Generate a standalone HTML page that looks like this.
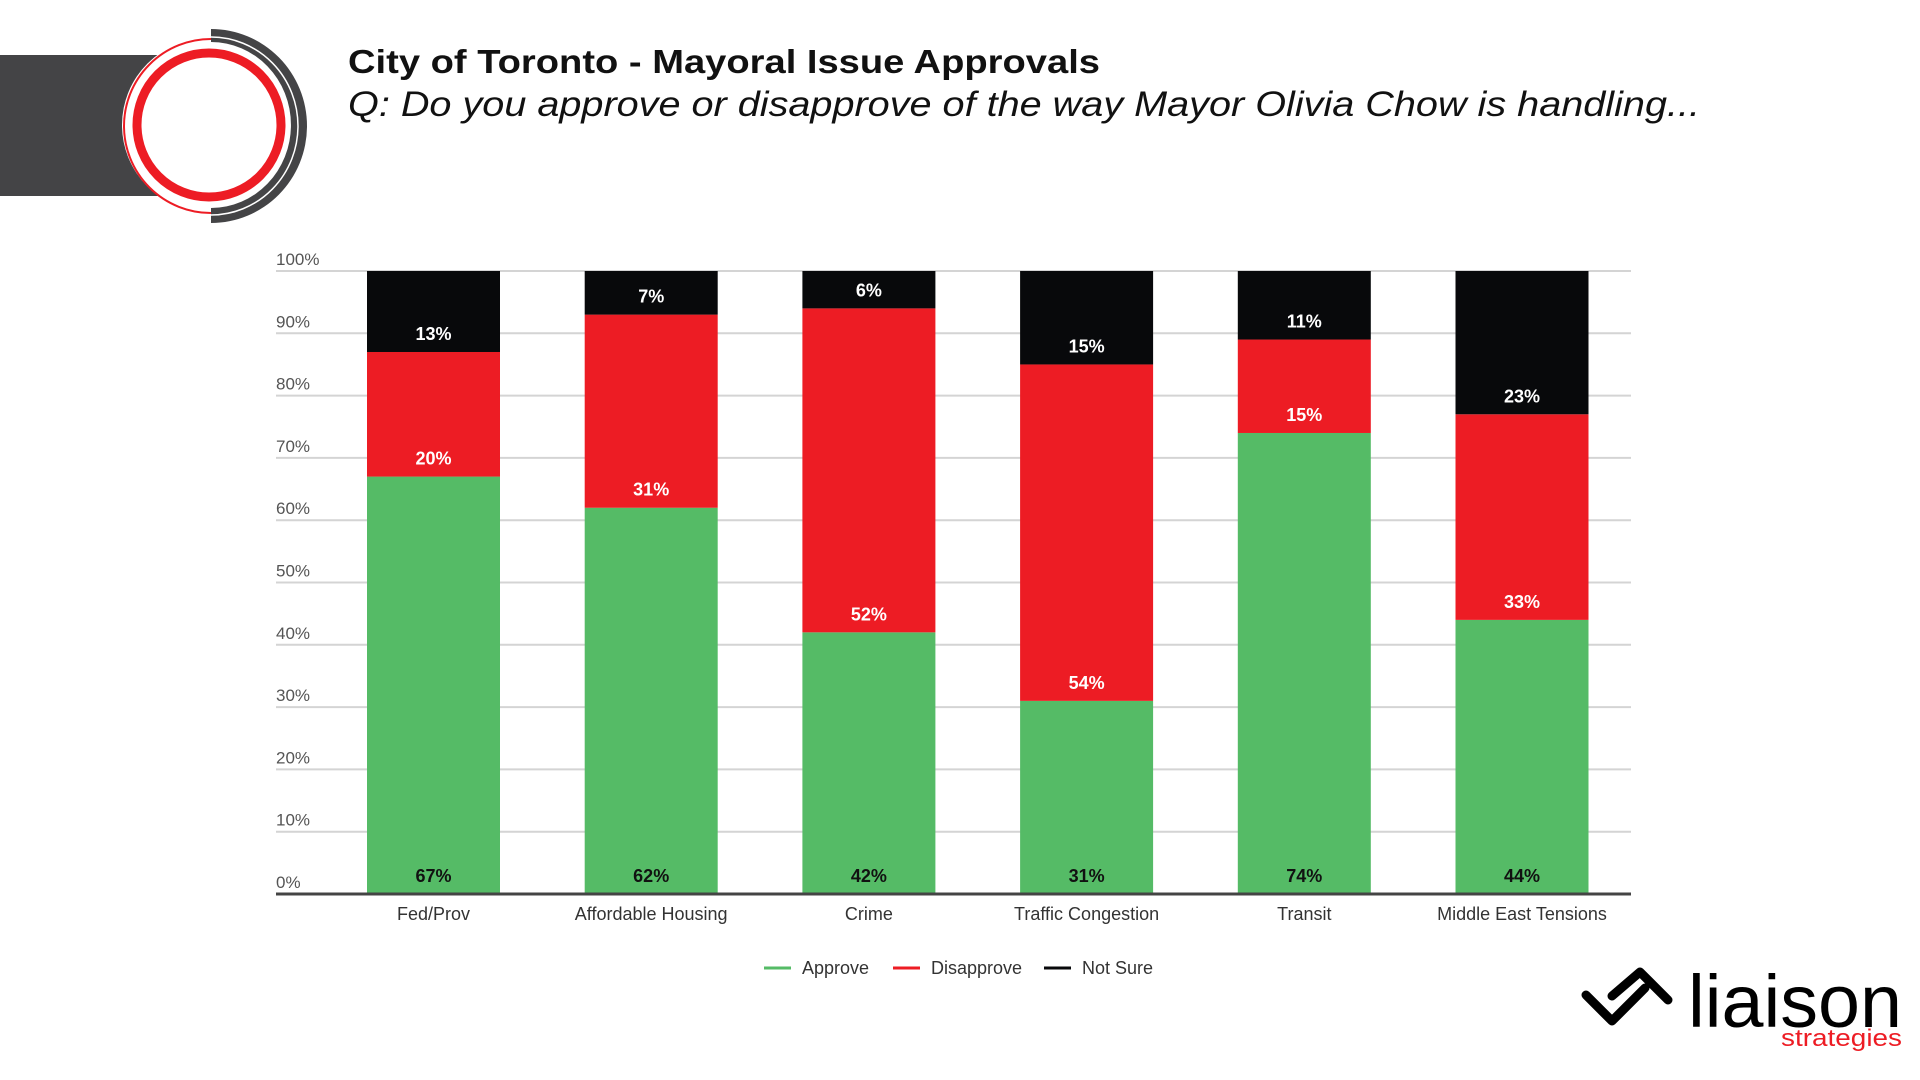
<!DOCTYPE html>
<html><head><meta charset="utf-8"><style>
html,body{margin:0;padding:0;background:#fff;}
svg{display:block;font-family:"Liberation Sans",sans-serif;}
</style></head><body>
<svg id="chart" width="1920" height="1080" viewBox="0 0 1920 1080" xmlns="http://www.w3.org/2000/svg">
  <g>
    <rect x="0" y="55" width="170" height="141" fill="#444446"/>
    <circle cx="209" cy="125" r="87" fill="#fff"/>
    <path d="M 211 39 A 87 87 0 0 0 211 213" fill="none" stroke="#ED1C24" stroke-width="2"/>
    <path d="M 211 29 A 96 97 0 0 1 211 223 L 211 208 A 80 83 0 0 0 211 42 Z" fill="#444446"/>
    <path d="M 211 37 A 86 88 0 0 1 211 215" fill="none" stroke="#fff" stroke-width="1.5"/>
    <circle cx="209" cy="125" r="72" fill="#fff" stroke="#ED1C24" stroke-width="9"/>
  </g>
  <text x="348" y="73" font-size="33" font-weight="bold" fill="#111" textLength="752" lengthAdjust="spacingAndGlyphs">City of Toronto - Mayoral Issue Approvals</text>
  <text x="348" y="116" font-size="35" font-style="italic" fill="#111" textLength="1352" lengthAdjust="spacingAndGlyphs">Q: Do you approve or disapprove of the way Mayor Olivia Chow is handling...</text>
  <g id="grid"></g>
  <g id="bars"></g>
  <g id="labels"></g>
  <g id="legend"></g>
  <g>
    <path d="M 1586 995 L 1612 1021 L 1645 988" fill="none" stroke="#000" stroke-width="9" stroke-linecap="round" stroke-linejoin="round"/>
    <path d="M 1612 996 L 1640 972 L 1668 1000" fill="none" stroke="#000" stroke-width="9" stroke-linecap="round" stroke-linejoin="round"/>
    <text x="1688" y="1027" font-size="74" fill="#000" textLength="214" lengthAdjust="spacingAndGlyphs">liaison</text>
    <text x="1781" y="1046" font-size="24" fill="#ED1C24" textLength="121" lengthAdjust="spacingAndGlyphs">strategies</text>
  </g>
</svg>
<script>
const categories = ["Fed/Prov","Affordable Housing","Crime","Traffic Congestion","Transit","Middle East Tensions"];
const approve = [67,62,42,31,74,44];
const disapprove = [20,31,52,54,15,33];
const notSure = [13,7,6,15,11,23];
const yTicks = [0,10,20,30,40,50,60,70,80,90,100];
const seriesNames = ["Approve","Disapprove","Not Sure"];
const seriesColors = ["#55BB66","#ED1C24","#08090B"];
const labelColors = ["#111","#fff","#fff"];

const NS = "http://www.w3.org/2000/svg";
const plotLeft = 276, plotRight = 1631, yTop = 271, yBottom = 894;
const firstCenter = 433.5, pitch = 217.7, barW = 133;
function y(v){ return yBottom - (v/100)*(yBottom - yTop); }
function xc(i){ return firstCenter + i*pitch; }
function mk(tag, attrs, parent){ const e=document.createElementNS(NS,tag); for(const k in attrs) e.setAttribute(k,attrs[k]); parent.appendChild(e); return e; }

const grid = document.getElementById('grid');
yTicks.forEach(t=>{
  if(t>0){
    const l = mk('line',{x1:plotLeft,x2:plotRight,y1:y(t),y2:y(t),stroke:'#d4d4d4','stroke-width':2},grid);
    
    
  }
  const tx = mk('text',{x:plotLeft,y:y(t)-6,'font-size':17,fill:'#555'},grid);
  tx.textContent = t+'%';
  
  
});

const bars = document.getElementById('bars');
const labels = document.getElementById('labels');
const series = [approve, disapprove, notSure];
categories.forEach((c,i)=>{
  let base = 0;
  series.forEach((s,k)=>{
    const v = s[i];
    const top = base + v;
    const r = mk('rect',{x:xc(i)-barW/2,y:y(top),width:barW,height:y(base)-y(top),fill:seriesColors[k]},bars);
    
    
    const lt = mk('text',{x:xc(i),y:y(base)-12,'font-size':18,'font-weight':'bold','text-anchor':'middle',fill:labelColors[k]},labels);
    lt.textContent = v+'%';
    
    
    base = top;
  });
  const ct = mk('text',{x:xc(i),y:920,'font-size':18,'text-anchor':'middle',fill:'#333'},labels);
  ct.textContent = c;
  
  
});
const axis = mk('line',{x1:plotLeft,x2:plotRight,y1:yBottom,y2:yBottom,stroke:'#444',"stroke-width":3},labels);



const legend = document.getElementById('legend');
const legX = [764, 893, 1044];
seriesNames.forEach((n,k)=>{
  const g = mk('g',{},legend);
  
  
  mk('line',{x1:legX[k],x2:legX[k]+27,y1:968,y2:968,stroke:seriesColors[k],'stroke-width':3},g);
  const t = mk('text',{x:legX[k]+38,y:974,'font-size':18,fill:'#333'},g);
  t.textContent = n;
});
</script>
</body></html>
